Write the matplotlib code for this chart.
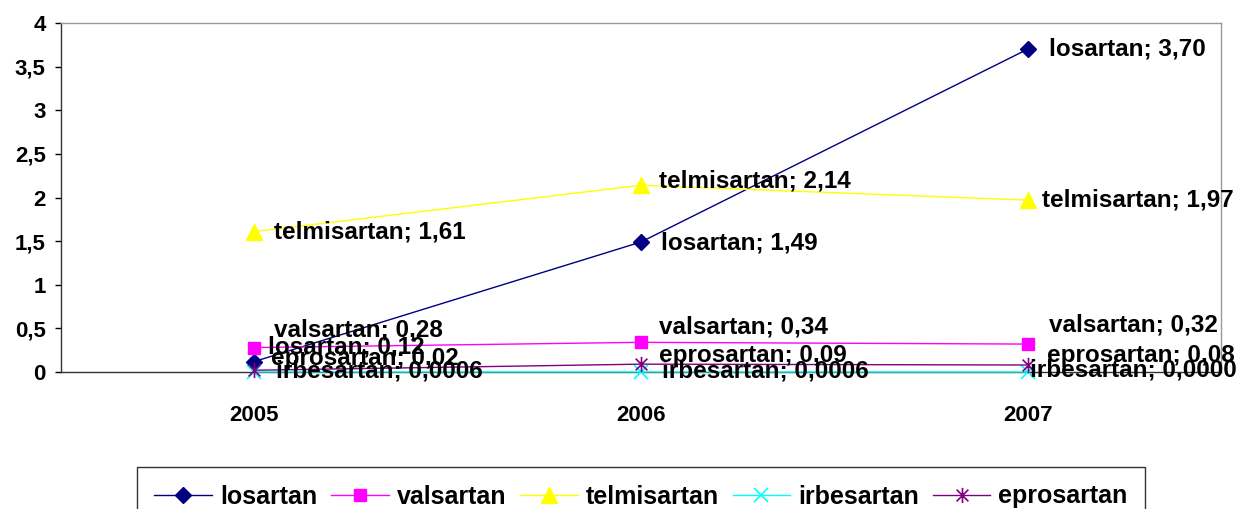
import numpy as np
import matplotlib
matplotlib.use("Agg")
import matplotlib.pyplot as plt
from matplotlib.path import Path

years = ["2005", "2006", "2007"]
series_names = ["losartan", "valsartan", "telmisartan", "irbesartan", "eprosartan"]
losartan = [0.12, 1.49, 3.70]
valsartan = [0.28, 0.34, 0.32]
telmisartan = [1.61, 2.14, 1.97]
irbesartan = [0.0006, 0.0006, 0.0000]
eprosartan = [0.02, 0.09, 0.08]
decimals = [2, 2, 2, 4, 2]
yticks = [0, 0.5, 1, 1.5, 2, 2.5, 3, 3.5, 4]
ytick_labels = ["0", "0,5", "1", "1,5", "2", "2,5", "3", "3,5", "4"]

values = [losartan, valsartan, telmisartan, irbesartan, eprosartan]

# star marker like excel: x with a vertical bar
star = Path([(-1, -1), (1, 1), (-1, 1), (1, -1), (0, -1.3), (0, 1.3)],
            [Path.MOVETO, Path.LINETO, Path.MOVETO, Path.LINETO, Path.MOVETO, Path.LINETO])

styles = [
    dict(color="#000080", marker="D", ms=8, mfc="#000080", mec="#000080"),
    dict(color="#FF00FF", marker="s", ms=9, mfc="#FF00FF", mec="#FF00FF"),
    dict(color="#FFFF00", marker="^", ms=11, mfc="#FFFF00", mec="#FFFF00"),
    dict(color="#00FFFF", marker="x", ms=10, mfc="none", mec="#00FFFF", mew=1.2),
    dict(color="#800080", marker=star, ms=11, mfc="none", mec="#800080", mew=1.2),
]

# label offsets in pixels (dx, dy) per series, per year
offsets = [
    [(14, 15), (20, -1), (21, 0)],
    [(20, 18), (18, 15), (21, 19)],
    [(20, 0), (18, 4), (14, 0)],
    [(22, 1), (21, 1), (2, 2)],
    [(17, 12), (18, 9), (19, 10)],
]

font = ["Liberation Sans", "DejaVu Sans"]

fig = plt.figure(figsize=(12.42, 5.09), dpi=100, facecolor="white")
ax = fig.add_axes([61 / 1242, 1 - 372 / 509, 1160 / 1242, 349 / 509])

x = np.arange(len(years))
for name, vals, st in zip(series_names, values, styles):
    ax.plot(x, vals, lw=1, label=name, zorder=3, clip_on=False, **st)

for i, (name, vals) in enumerate(zip(series_names, values)):
    for j, v in enumerate(vals):
        txt = f"{name}; {v:.{decimals[i]}f}".replace(".", ",")
        ax.annotate(txt, xy=(x[j], v), xytext=offsets[i][j], textcoords="offset pixels",
                    ha="left", va="center", fontsize=17.5, fontweight="bold",
                    family=font, color="black", zorder=5, annotation_clip=False)

ax.set_xlim(-0.5, 2.5)
ax.set_ylim(0, 4)
ax.set_yticks(yticks)
ax.set_yticklabels(ytick_labels)
ax.set_xticks(x)
ax.set_xticklabels(years)
for lab in ax.get_xticklabels() + ax.get_yticklabels():
    lab.set_fontweight("bold")
    lab.set_fontsize(16)
    lab.set_family(font)
ax.tick_params(axis="y", direction="out", length=4, width=1, pad=7, colors="black")
ax.tick_params(axis="x", length=0, pad=24)

ax.spines["left"].set_color("#333333")
ax.spines["bottom"].set_color("#333333")
ax.spines["top"].set_color("#999999")
ax.spines["right"].set_color("#999999")
for sp in ax.spines.values():
    sp.set_linewidth(1)
    sp.set_zorder(2)

leg = fig.legend(loc="upper center", bbox_to_anchor=(641 / 1242, 1 - 467 / 509), ncol=5,
                 frameon=True, fancybox=False, handlelength=2.3, columnspacing=0.56,
                 handletextpad=0.32, borderpad=0.7, borderaxespad=0,
                 prop=dict(family=font, weight="bold", size=18))
leg.get_frame().set_edgecolor("black")
leg.get_frame().set_linewidth(1)

fig.savefig("out.png", dpi=100, facecolor="white")
